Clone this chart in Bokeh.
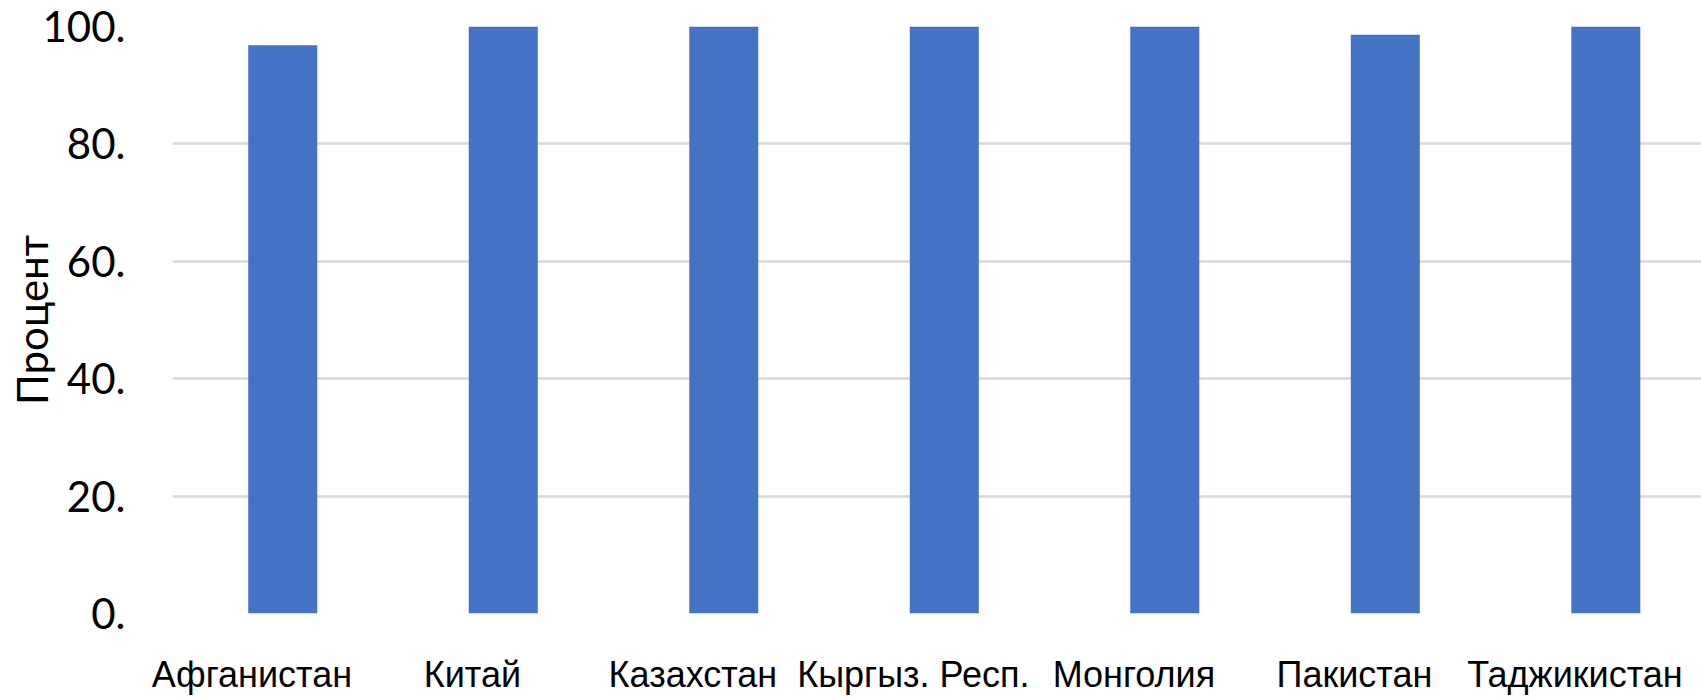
from bokeh.plotting import figure
from bokeh.models import Range1d, FixedTicker
from bokeh.embed import file_html
from bokeh.resources import INLINE

# Data
countries = ["Афганистан", "Китай", "Казахстан", "Кыргыз. Респ.",
             "Монголия", "Пакистан", "Таджикистан"]
percent = [96.8, 100.0, 100.0, 100.0, 100.0, 98.6, 100.0]
y_ticks = [0, 20, 40, 60, 80, 100]
y_tick_labels = ["0.", "20.", "40.", "60.", "80.", "100."]
y_title = "Процент"

BAR_COLOR = "#4472C4"
GRID_COLOR = "#d9d9d9"

# category slots are one unit wide; bars sit in the middle of each slot
centers = [i + 0.5 for i in range(len(countries))]
label_pos = [c - 0.14 for c in centers]

p = figure(
    width=1701, height=697,
    x_range=Range1d(0, 6.934), y_range=Range1d(0, 100),
    output_backend="svg", toolbar_location=None,
    min_border_left=172, min_border_right=0,
    min_border_top=26, min_border_bottom=84,
)

p.vbar(x=centers, top=percent, width=0.313, fill_color=BAR_COLOR, line_color=None)

p.outline_line_color = None
p.background_fill_color = "white"
p.border_fill_color = "white"

# horizontal grid
p.xgrid.visible = False
p.ygrid.ticker = FixedTicker(ticks=y_ticks)
p.ygrid.grid_line_color = GRID_COLOR
p.ygrid.grid_line_width = 2.5

# y axis
ya = p.yaxis[0]
ya.ticker = FixedTicker(ticks=y_ticks)
ya.major_label_overrides = dict(zip(y_ticks, y_tick_labels))
ya.axis_line_color = None
ya.major_tick_line_color = None
ya.minor_tick_line_color = None
ya.major_tick_out = 0
ya.major_tick_in = 0
ya.major_label_standoff = 47
ya.major_label_text_font = "Lato"
ya.major_label_text_font_size = "42px"
ya.major_label_text_color = "black"
ya.axis_label = y_title
ya.axis_label_text_font = "Lato"
ya.axis_label_text_font_size = "42px"
ya.axis_label_text_font_style = "normal"
ya.axis_label_text_color = "black"
ya.axis_label_standoff = -17

# x axis with country names
xa = p.xaxis[0]
xa.ticker = FixedTicker(ticks=label_pos)
xa.major_label_overrides = dict(zip(label_pos, countries))
xa.axis_line_color = None
xa.major_tick_line_color = None
xa.minor_tick_line_color = None
xa.major_tick_out = 0
xa.major_tick_in = 0
xa.major_label_standoff = 40
xa.major_label_text_font = "Liberation Sans"
xa.major_label_text_font_size = "36px"
xa.major_label_text_color = "black"

open("out.html", "w").write(file_html(p, INLINE))
